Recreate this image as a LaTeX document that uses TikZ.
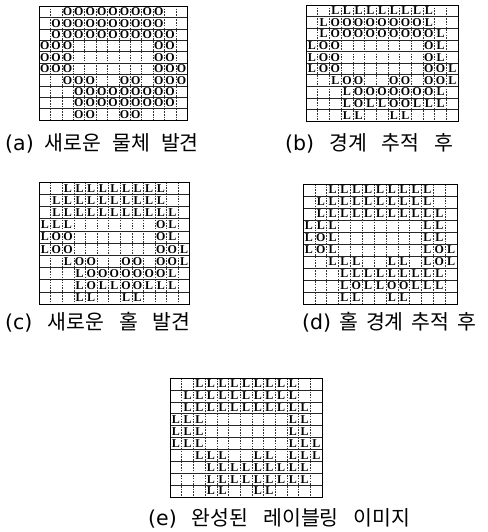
\documentclass[tikz,border=0pt]{standalone}
\usepackage{fontspec}
\setmainfont{Liberation Serif}
\newfontfamily\krfont{Noto Sans CJK KR}
\newfontfamily\tagfont{DejaVu Sans}
\usetikzlibrary{positioning}

\newcommand\capfont[1]{\krfont\fontsize{20.5}{21}\selectfont\spaceskip #1pt\relax}

\tikzset{
  cellmark/.style={font=\bfseries\fontsize{12}{12}\selectfont, inner sep=0pt},
  gridrule/.style={black!85, line width=0.5pt},
  gridcol/.style={black!80, line width=0.5pt, dash pattern=on 1.5pt off 1.2pt},
  gridframe/.style={black, line width=0.8pt},
  caption/.style={font=\capfont{#1}, anchor=west, inner sep=0pt},
  caption/.default=12
}

% name, left, top, cell width, cell height, rows
\newcommand\labelgrid[6]{%
  \begin{scope}[shift={(#2,#3)}, x=#4pt, y=-#5pt]
    \foreach \k in {1,...,9} \draw[gridrule] (0,\k) -- (13,\k);
    \foreach \k in {1,...,12} \draw[gridcol] (\k,0) -- (\k,10);
    \draw[gridframe] (0,0) rectangle (13,10);
    \foreach \row [count=\i from 0] in {#6} {
      \foreach \ch [count=\j from 0] in \row {
        \if\ch.\else\node[cellmark] (#1-\i-\j) at (\j+0.5,\i+0.5) {\ch};\fi
      }
    }
  \end{scope}}

\begin{document}
\begin{tikzpicture}[x=1pt, y=-1pt]
\useasboundingbox (0,0) rectangle (487,532);

% (a) new object
\labelgrid{a}{39}{6}{11.4}{11.4}{
  {.,.,O,O,O,O,O,O,O,O,O,.,.},
  {.,O,O,O,O,O,O,O,O,O,O,.,.},
  {.,O,O,O,O,O,O,O,O,O,O,O,.},
  {O,O,O,.,.,.,.,.,.,.,O,O,.},
  {O,O,O,.,.,.,.,.,.,.,O,O,.},
  {O,O,O,.,.,.,.,.,.,.,O,O,O},
  {.,.,O,O,O,.,.,O,O,.,O,O,O},
  {.,.,.,O,O,O,O,O,O,O,O,O,.},
  {.,.,.,O,O,O,O,O,O,O,O,O,.},
  {.,.,.,O,O,.,.,O,O,.,.,.,.}}

% (b) after contour tracing
\labelgrid{b}{306}{5}{11.7}{11.6}{
  {.,.,L,L,L,L,L,L,L,L,L,.,.},
  {.,L,O,O,O,O,O,O,O,O,L,.,.},
  {.,L,O,O,O,O,O,O,O,O,O,L,.},
  {L,O,O,.,.,.,.,.,.,.,O,L,.},
  {L,O,O,.,.,.,.,.,.,.,O,L,.},
  {L,O,O,.,.,.,.,.,.,.,O,O,L},
  {.,.,L,O,O,.,.,O,O,.,O,O,L},
  {.,.,.,L,O,O,O,O,O,O,O,L,.},
  {.,.,.,L,O,L,L,O,O,L,L,L,.},
  {.,.,.,L,L,.,.,L,L,.,.,.,.}}

% (c) new hole
\labelgrid{c}{39}{182}{11.6}{12.2}{
  {.,.,L,L,L,L,L,L,L,L,L,.,.},
  {.,L,L,L,L,L,L,L,L,L,L,.,.},
  {.,L,L,L,L,L,L,L,L,L,L,L,.},
  {L,L,L,.,.,.,.,.,.,.,O,L,.},
  {L,O,O,.,.,.,.,.,.,.,O,L,.},
  {L,O,O,.,.,.,.,.,.,.,O,O,L},
  {.,.,L,O,O,.,.,O,O,.,O,O,L},
  {.,.,.,L,O,O,O,O,O,O,O,L,.},
  {.,.,.,L,O,L,L,O,O,L,L,L,.},
  {.,.,.,L,L,.,.,L,L,.,.,.,.}}

% (d) after hole contour tracing
\labelgrid{d}{303}{184}{11.85}{12}{
  {.,.,L,L,L,L,L,L,L,L,L,.,.},
  {.,L,L,L,L,L,L,L,L,L,L,.,.},
  {.,L,L,L,L,L,L,L,L,L,L,L,.},
  {L,L,L,.,.,.,.,.,.,.,L,L,.},
  {L,O,L,.,.,.,.,.,.,.,L,L,.},
  {L,O,L,.,.,.,.,.,.,.,L,O,L},
  {.,.,L,L,L,.,.,L,L,.,L,O,L},
  {.,.,.,L,L,L,L,L,L,L,L,L,.},
  {.,.,.,L,O,L,L,O,O,L,L,L,.},
  {.,.,.,L,L,.,.,L,L,.,.,.,.}}

% (e) labelled image
\labelgrid{e}{170}{378}{11.7}{11.9}{
  {.,.,L,L,L,L,L,L,L,L,L,.,.},
  {.,L,L,L,L,L,L,L,L,L,L,.,.},
  {.,L,L,L,L,L,L,L,L,L,L,L,.},
  {L,L,L,.,.,.,.,.,.,.,L,L,.},
  {L,L,L,.,.,.,.,.,.,.,L,L,.},
  {L,L,L,.,.,.,.,.,.,.,L,L,L},
  {.,.,L,L,L,.,.,L,L,.,L,L,L},
  {.,.,.,L,L,L,L,L,L,L,L,L,.},
  {.,.,.,L,L,L,L,L,L,L,L,L,.},
  {.,.,.,L,L,.,.,L,L,.,.,.,.}}

\node[caption=11] (capA) at (5,143) {{\tagfont(a)} 새로운 물체 발견};
\node[caption=15] (capB) at (285,143) {{\tagfont(b)} 경계 추적 후};
\node[caption=15] (capC) at (5,322) {{\tagfont(c)} 새로운 홀 발견};
\node[caption=8] (capD) at (302,322) {{\tagfont(d)} 홀 경계 추적 후};
\node[caption=15] (capE) at (148,518) {{\tagfont(e)} 완성된 레이블링 이미지};

\end{tikzpicture}
\end{document}
